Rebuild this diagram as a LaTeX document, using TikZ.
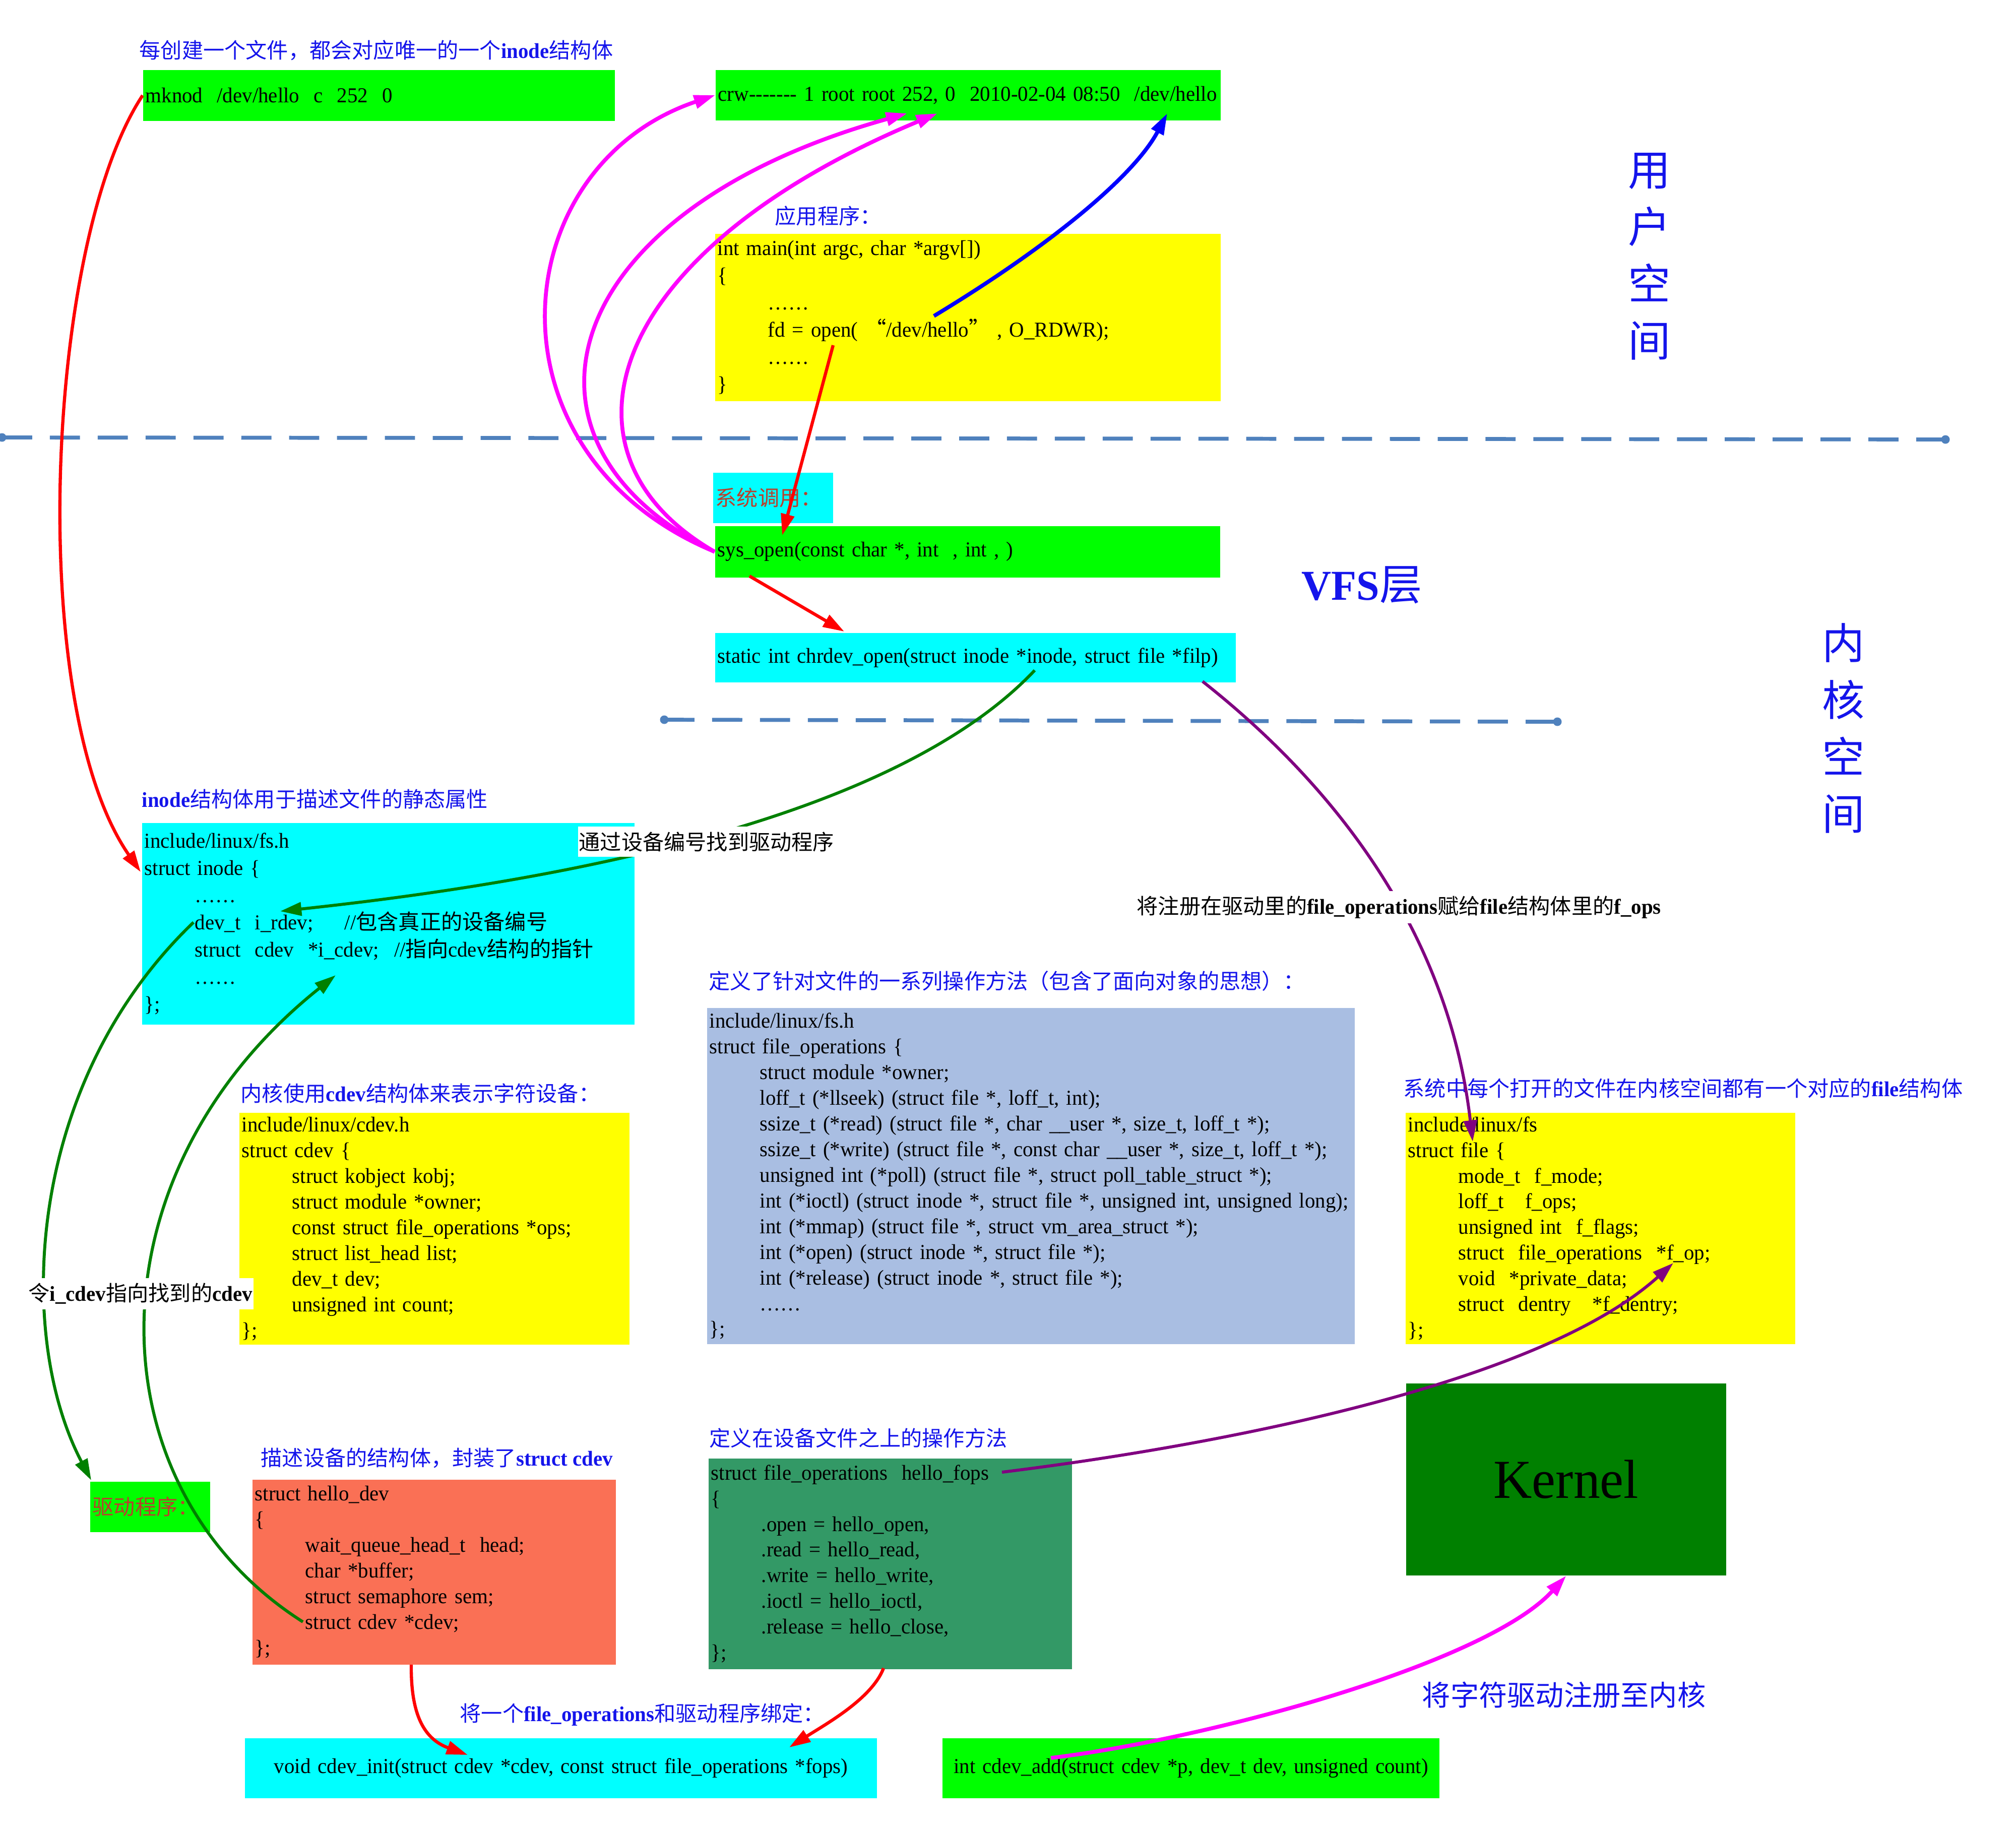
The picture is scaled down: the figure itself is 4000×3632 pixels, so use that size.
\documentclass[tikz,border=0pt]{standalone}
\usepackage{fontspec}
\setmainfont{Liberation Serif}[Ligatures=TeXOff, FakeStretch=0.97]
\newfontfamily\cjk{Noto Sans CJK SC}
\usetikzlibrary{arrows.meta}
\definecolor{cgreen}{RGB}{0,255,0}
\definecolor{ccyan}{RGB}{0,255,255}
\definecolor{cyellow}{RGB}{255,255,0}
\definecolor{cfops}{RGB}{169,190,226}
\definecolor{csea}{RGB}{51,153,102}
\definecolor{csalmon}{RGB}{250,112,85}
\definecolor{ckernel}{RGB}{0,128,0}
\definecolor{tblue}{RGB}{20,20,235}
\definecolor{labred}{RGB}{185,65,45}
\definecolor{dashblue}{RGB}{79,129,189}
\definecolor{amag}{RGB}{255,0,255}
\definecolor{ared}{RGB}{255,0,0}
\definecolor{ablue}{RGB}{0,0,255}
\definecolor{agreen}{RGB}{0,128,0}
\definecolor{apurple}{RGB}{128,0,128}
\newcommand\zh[1]{{\cjk #1}}
\newcommand\codeind{\hspace*{1cm}}
\newcommand\codefont{\fontsize{12}{14.5}\selectfont}
\newcommand\codefontb{\fontsize{12}{15.36}\selectfont}
\begin{document}
\begin{tikzpicture}[x=0.01cm,y=-0.01cm,
  box/.style={rectangle, anchor=north west, inner xsep=0.05cm, inner ysep=0pt, align=left, font=\codefont},
  ttl/.style={anchor=west, inner sep=0pt, text=tblue, font=\codefont},
  lbl/.style={anchor=west, fill=white, inner xsep=0.02cm, inner ysep=0.1cm, font=\codefont},
  dot/.style={circle, fill=dashblue, minimum size=0.17cm, inner sep=0pt},
  dashln/.style={draw=dashblue, line width=2.2pt, dash pattern=on 17pt off 10pt},
  tip/.style={-{Triangle[length=12pt,width=7.5pt]}},
  redar/.style={tip, draw=ared, line width=1.8pt},
  magar/.style={tip, draw=amag, line width=2.2pt},
  bluear/.style={tip, draw=ablue, line width=2.2pt},
  greenar/.style={tip, draw=agreen, line width=1.7pt},
  purar/.style={tip, draw=apurple, line width=1.7pt}]
\useasboundingbox (0,0) rectangle (4000,3632);

% ---------------- boxes ----------------
\node[box, fill=cgreen, minimum width=9.36cm, minimum height=1.01cm, text width=9.26cm] (mknod) at (283,138)
  {mknod\ \ /dev/hello\ \ c\ \ 252\ \ 0};
\node[box, fill=cgreen, minimum width=10.02cm, minimum height=1.00cm, text width=9.92cm] (crw) at (1419,138)
  {crw------- 1 root root 252, 0\ \ 2010-02-04 08:50\ \ /dev/hello};
\node[box, fill=cyellow, minimum width=10.03cm, minimum height=3.32cm, text width=9.93cm, font=\codefontb] (mainb) at (1418,463)
  {int main(int argc, char *argv[])\\
   \{\\
   \codeind……\\
   \codeind fd = open( \zh{“}/dev/hello\zh{”} , O\_RDWR);\\
   \codeind……\\
   \}};
\node[box, fill=ccyan, minimum width=2.38cm, minimum height=1.00cm, text width=2.28cm, text=labred] (sysl) at (1414,937)
  {\zh{系统调用：}};
\node[box, fill=cgreen, minimum width=10.02cm, minimum height=1.02cm, text width=9.92cm] (sysopen) at (1418,1043)
  {sys\_open(const char *, int\ \ , int , )};
\node[box, fill=ccyan, minimum width=10.33cm, minimum height=0.98cm, text width=10.23cm] (chrdev) at (1418,1255)
  {static int chrdev\_open(struct inode *inode, struct file *filp)};
\node[box, fill=ccyan, minimum width=9.77cm, minimum height=4.00cm, text width=9.67cm, font=\codefontb] (inode) at (281,1632)
  {include/linux/fs.h\\
   struct inode \{\\
   \codeind……\\
   \codeind dev\_t\ \ i\_rdev;\hspace{0.62cm}//\zh{包含真正的设备编号}\\
   \codeind struct\ \ cdev\ \ *i\_cdev;\hspace{0.3cm}//\zh{指向}cdev\zh{结构的指针}\\
   \codeind……\\
   \};};
\node[box, fill=cfops, minimum width=12.85cm, minimum height=6.67cm, text width=12.75cm] (fops) at (1402,1999)
  {include/linux/fs.h\\
   struct file\_operations \{\\
   \codeind struct module *owner;\\
   \codeind loff\_t (*llseek) (struct file *, loff\_t, int);\\
   \codeind ssize\_t (*read) (struct file *, char \_\_user *, size\_t, loff\_t *);\\
   \codeind ssize\_t (*write) (struct file *, const char \_\_user *, size\_t, loff\_t *);\\
   \codeind unsigned int (*poll) (struct file *, struct poll\_table\_struct *);\\
   \codeind int (*ioctl) (struct inode *, struct file *, unsigned int, unsigned long);\\
   \codeind int (*mmap) (struct file *, struct vm\_area\_struct *);\\
   \codeind int (*open) (struct inode *, struct file *);\\
   \codeind int (*release) (struct inode *, struct file *);\\
   \codeind……\\
   \};};
\node[box, fill=cyellow, minimum width=7.73cm, minimum height=4.59cm, text width=7.63cm] (filebox) at (2788,2207)
  {include/linux/fs\\
   struct file \{\\
   \codeind mode\_t\ \ f\_mode;\\
   \codeind loff\_t\ \ \ f\_ops;\\
   \codeind unsigned int\ \ f\_flags;\\
   \codeind struct\ \ file\_operations\ \ *f\_op;\\
   \codeind void\ \ *private\_data;\\
   \codeind struct\ \ dentry\ \ \ *f\_dentry;\\
   \};};
\node[box, fill=cyellow, minimum width=7.74cm, minimum height=4.60cm, text width=7.64cm] (cdev) at (474,2207)
  {include/linux/cdev.h\\
   struct cdev \{\\
   \codeind struct kobject kobj;\\
   \codeind struct module *owner;\\
   \codeind const struct file\_operations *ops;\\
   \codeind struct list\_head list;\\
   \codeind dev\_t dev;\\
   \codeind unsigned int count;\\
   \};};
\node[rectangle, anchor=north west, fill=ckernel, minimum width=6.35cm, minimum height=3.81cm, inner sep=0pt,
  font=\fontsize{31}{36}\selectfont] (kernel) at (2789,2744) {Kernel};
\node[box, fill=cgreen, minimum width=2.38cm, minimum height=1.00cm, text width=2.28cm, text=labred] (drv) at (178,2939)
  {\zh{驱动程序：}};
\node[box, fill=csalmon, minimum width=7.21cm, minimum height=3.67cm, text width=7.11cm] (hellodev) at (500,2935)
  {struct hello\_dev\\
   \{\\
   \codeind wait\_queue\_head\_t\ \ head;\\
   \codeind char *buffer;\\
   \codeind struct semaphore sem;\\
   \codeind struct cdev *cdev;\\
   \};};
\node[box, fill=csea, minimum width=7.21cm, minimum height=4.18cm, text width=7.11cm] (hellofops) at (1405,2893)
  {struct file\_operations\ \ hello\_fops\\
   \{\\
   \codeind .open = hello\_open,\\
   \codeind .read = hello\_read,\\
   \codeind .write = hello\_write,\\
   \codeind .ioctl = hello\_ioctl,\\
   \codeind .release = hello\_close,\\
   \};};
\node[box, align=center, fill=ccyan, minimum width=12.54cm, minimum height=1.19cm, text width=12.44cm] (cdevinit) at (485,3448)
  {void cdev\_init(struct cdev *cdev, const struct file\_operations *fops)};
\node[box, align=center, fill=cgreen, minimum width=9.86cm, minimum height=1.19cm, text width=9.76cm] (cdevadd) at (1869,3448)
  {int cdev\_add(struct cdev *p, dev\_t dev, unsigned count)};

% ---------------- titles ----------------
\node[ttl] (t1) at (276,100) {\zh{每创建一个文件，都会对应唯一的一个}\textbf{inode}\zh{结构体}};
\node[ttl] (tapp) at (1537,428) {\zh{应用程序：}};
\node[ttl] (tinode) at (281,1585) {\textbf{inode}\zh{结构体用于描述文件的静态属性}};
\node[ttl] (tfops) at (1406,1946) {\zh{定义了针对文件的一系列操作方法（包含了面向对象的思想）：}};
\node[ttl] (tfile) at (2784,2159) {\zh{系统中每个打开的文件在内核空间都有一个对应的}\textbf{file}\zh{结构体}};
\node[ttl] (tcdev) at (477,2169) {\zh{内核使用}\textbf{cdev}\zh{结构体来表示字符设备：}};
\node[ttl] (thdev) at (517,2893) {\zh{描述设备的结构体，封装了}\textbf{struct cdev}};
\node[ttl] (thfops) at (1407,2853) {\zh{定义在设备文件之上的操作方法}};
\node[ttl] (tbind) at (912,3402) {\zh{将一个}\textbf{file\_operations}\zh{和驱动程序绑定：}};
\node[ttl, font=\fontsize{16}{19}\selectfont] (treg) at (2821,3363) {\zh{将字符驱动注册至内核}};
\node[ttl, anchor=center, font=\fontsize{24}{28}\selectfont] (tvfs) at (2702,1161) {\textbf{VFS}\zh{层}};
\node[ttl, anchor=center, align=center, font=\fontsize{24}{32.2}\selectfont] (tuser) at (3273,509) {\zh{用}\\\zh{户}\\\zh{空}\\\zh{间}};
\node[ttl, anchor=center, align=center, font=\fontsize{24}{32.2}\selectfont] (tkern) at (3658,1445) {\zh{内}\\\zh{核}\\\zh{空}\\\zh{间}};

% ---------------- dashed separators ----------------
\node[dot] (d1a) at (4,868) {};
\node[dot] (d1b) at (3860,872) {};
\draw[dashln] (d1a.center) -- (d1b.center);
\node[dot] (d2a) at (1318,1428) {};
\node[dot] (d2b) at (3090,1432) {};
\draw[dashln] (d2a.center) -- (d2b.center);

% ---------------- connector end points ----------------
\coordinate (inodeA) at (279,1730);
\coordinate (openA) at (1653,685);
\coordinate (sysA) at (1552,1062);
\coordinate (sysB) at (1487,1143);
\coordinate (chrA) at (1675,1253);
\coordinate (fdA) at (1853,627);
\coordinate (crwB) at (2316,225);
\coordinate (crwM1) at (1800,225);
\coordinate (crwM2) at (1860,225);
\coordinate (chrG) at (2053,1330);
\coordinate (rdevA) at (556,1808);
\coordinate (rdevB) at (384,1830);
\coordinate (drvA) at (181,2937);
\coordinate (hcdev) at (601,3218);
\coordinate (icdevA) at (666,1935);
\coordinate (chrP) at (2386,1352);
\coordinate (fileA) at (2922,2265);
\coordinate (fopsP) at (1988,2921);
\coordinate (fopA) at (3320,2506);
\coordinate (hdB) at (816,3303);
\coordinate (initA) at (928,3482);
\coordinate (hfB) at (1753,3310);
\coordinate (initB) at (1566,3467);
\coordinate (addA) at (2085,3488);

% ---------------- connectors ----------------
\draw[redar] (mknod.west) .. controls (90,480) and (50,1400) .. (inodeA);
\draw[redar] (openA) -- (sysA);
\draw[redar] (sysB) -- (chrA);
\draw[bluear] (fdA) .. controls (2080,490) and (2250,350) .. (crwB);
\draw[magar] (sysopen.west) .. controls (950,900) and (1000,330) .. (crw.west);
\draw[magar] (sysopen.west) .. controls (980,880) and (1100,420) .. (crwM1);
\draw[magar] (sysopen.west) .. controls (1080,900) and (1200,500) .. (crwM2);
\draw[greenar] (chrG) .. controls (1760,1640) and (1050,1755) .. (rdevA);
\draw[greenar] (rdevB) .. controls (50,2150) and (30,2650) .. (drvA);
\draw[greenar] (hcdev) .. controls (180,2950) and (170,2330) .. (icdevA);
\draw[purar] (chrP) .. controls (2700,1600) and (2880,1900) .. (fileA);
\draw[purar] (fopsP) .. controls (2400,2870) and (3050,2750) .. (fopA);
\draw[redar] (hdB) .. controls (815,3400) and (840,3450) .. (initA);
\draw[redar] (hfB) .. controls (1730,3370) and (1640,3420) .. (initB);
\draw[magar] (addA) .. controls (2400,3450) and (2950,3300) .. (kernel.south);

% ---------------- labels on connectors ----------------
\node[lbl] (lfind) at (1146,1670) {\zh{通过设备编号找到驱动程序}};
\node[lbl] (lcdev) at (54,2567) {\zh{令}\textbf{i\_cdev}\zh{指向找到的}\textbf{cdev}};
\node[lbl] (lfops) at (2253,1800) {\zh{将注册在驱动里的}\textbf{file\_operations}\zh{赋给}\textbf{file}\zh{结构体里的}\textbf{f\_ops}};
\end{tikzpicture}
\end{document}
